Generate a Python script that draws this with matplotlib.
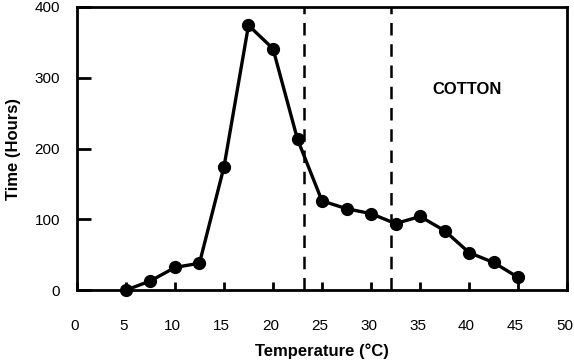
import numpy as np
import matplotlib
matplotlib.use("Agg")
import matplotlib.pyplot as plt
import matplotlib.transforms as mtransforms

# data
temps = [5, 7.5, 10, 12.5, 15, 17.5, 20, 22.5, 25, 27.5, 30, 32.5, 35, 37.5, 40, 42.5, 45]
hours = [0, 13, 32, 38, 174, 374, 341, 213, 126, 115, 108, 94, 104, 84, 53, 39, 18]
dash_x = [23.2, 32.0]
x_ticks = [0, 5, 10, 15, 20, 25, 30, 35, 40, 45, 50]
y_ticks = [0, 100, 200, 300, 400]

plt.rcParams["font.family"] = ["Liberation Sans", "DejaVu Sans"]

fig = plt.figure(figsize=(5.74, 3.64), dpi=100)
ax = fig.add_axes([0.134, 0.203, 0.854, 0.778])

ax.plot(temps, hours, "-o", color="black", linewidth=2.4, markersize=8.5, clip_on=False, zorder=3)
for xv in dash_x:
    ax.axvline(xv, color="black", linestyle=(0, (5, 3.5)), linewidth=1.8)

ax.text(39.8, 284, "COTTON", fontsize=12, fontweight="bold", ha="center", va="center")

ax.set_xlim(0, 50)
ax.set_ylim(0, 400)
ax.set_xticks(x_ticks)
ax.set_yticks(y_ticks)
ax.tick_params(axis="x", direction="in", length=6, width=2, pad=21, labelsize=11)
ax.tick_params(axis="y", direction="in", length=10, width=2, pad=12, labelsize=11)
for s in ax.spines.values():
    s.set_linewidth(2)

# labels in the reference sit a little left of their ticks
shift = mtransforms.ScaledTranslation(-2.5 / 100, 0, fig.dpi_scale_trans)
for lab in ax.get_xticklabels():
    lab.set_transform(lab.get_transform() + shift)

ax.set_xlabel("Temperature (\u00b0C)", fontsize=12, fontweight="bold", labelpad=7)
ax.set_ylabel("Time (Hours)", fontsize=12, fontweight="bold", labelpad=10)

fig.savefig("out.png", dpi=100)
